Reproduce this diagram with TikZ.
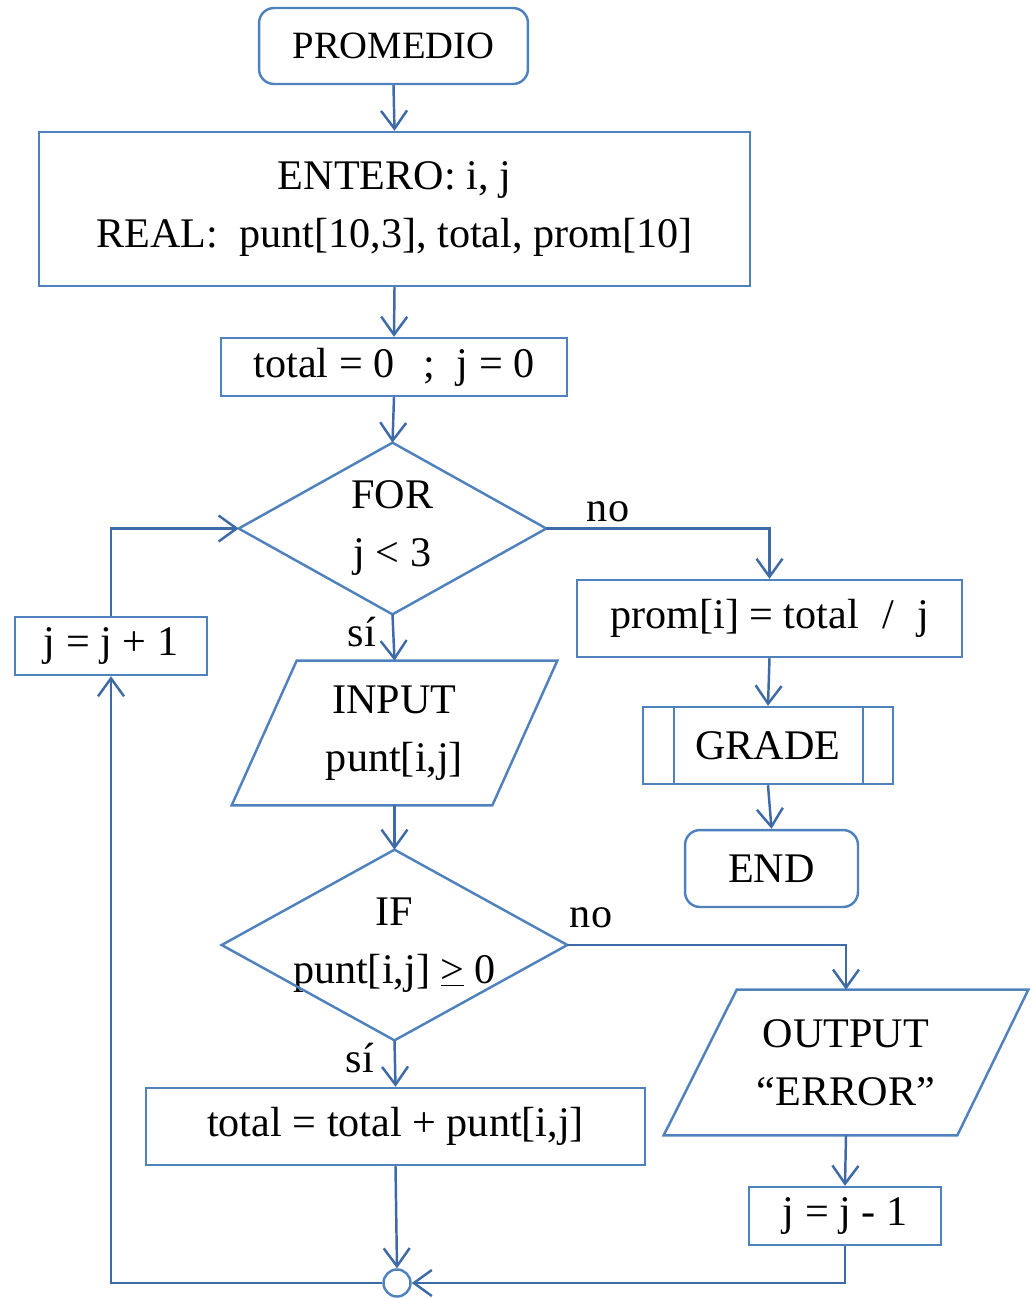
\documentclass[tikz,border=0pt]{standalone}
\usepackage{fontspec}
\setmainfont{Liberation Serif}
\usetikzlibrary{shapes.geometric,arrows.meta,calc}
\definecolor{boxblue}{RGB}{79,129,189}
\definecolor{linkblue}{RGB}{62,106,168}
\begin{document}
\begin{tikzpicture}[x=0.02cm,y=-0.02cm,
  every node/.style={font=\fontsize{24}{33}\selectfont, inner sep=0pt, align=center},
  boxline/.style={draw=boxblue, line width=1.4pt},
  procbox/.style={boxline, rectangle},
  termbox/.style={boxline, rectangle, rounded corners=0.3cm},
  frame/.style={rectangle},
  link/.style={draw=linkblue, line width=1.4pt, -{Straight Barb[length=0.36cm,width=0.52cm]}},
  tag/.style={font=\fontsize{24}{28}\selectfont}
]
\useasboundingbox (0,0) rectangle (1032,1299);

% main column
\node[termbox, minimum width=5.38cm, minimum height=1.52cm, font=\fontsize{22}{28}\selectfont] (promedio) at (393.5,46) {PROMEDIO};
\node[procbox, minimum width=14.22cm, minimum height=3.08cm] (entero) at (394.5,209)
  {ENTERO: i, j\\REAL:\ \ punt[10,3], total, prom[10]};
\node[procbox, minimum width=6.92cm, minimum height=1.16cm] (init) at (394,367)
  {total = 0\hspace{0.45em} ;\hspace{0.25em} j = 0};

% FOR decision: text frame with the diamond drawn on its anchors
\node[frame, minimum width=6.14cm, minimum height=3.42cm] (for) at (392.5,528.5) {FOR\\j < 3};
\draw[boxline] (for.north) -- (for.east) -- (for.south) -- (for.west) -- cycle;

% INPUT data box
\node[frame, minimum width=6.5cm, minimum height=2.88cm] (input) at (394.5,733) {INPUT\\punt[i,j]};
\draw[boxline] (input.south west) -- ([xshift=1.3cm]input.north west) -- (input.north east)
  -- ([xshift=-1.3cm]input.south east) -- cycle;

% IF decision
\node[frame, minimum width=6.9cm, minimum height=3.8cm] (if) at (394.5,945) {IF\\punt[i,j] \underline{>} 0};
\draw[boxline] (if.north) -- (if.east) -- (if.south) -- (if.west) -- cycle;

\node[procbox, minimum width=9.98cm, minimum height=1.54cm] (sum) at (395.5,1126.5) {total = total + punt[i,j]};
\node[boxline, circle, minimum size=0.54cm] (merge) at (397,1283) {};

% loop counter
\node[procbox, minimum width=3.84cm, minimum height=1.16cm] (jplus) at (111,646) {j = j + 1};

% exit branch of the loop
\node[procbox, minimum width=7.7cm, minimum height=1.54cm] (prom) at (769.5,618.5) {prom[i] = total\hspace{0.3em} /\hspace{0.3em} j};
\node[procbox, minimum width=5.0cm, minimum height=1.54cm] (grade) at (768,745.5) {GRADE};
\draw[boxline] ([xshift=0.64cm]grade.north west) -- ([xshift=0.64cm]grade.south west);
\draw[boxline] ([xshift=-0.62cm]grade.north east) -- ([xshift=-0.62cm]grade.south east);
\node[termbox, minimum width=3.46cm, minimum height=1.54cm] (end) at (771.5,868.5) {END};

% error branch
\node[frame, minimum width=7.28cm, minimum height=2.9cm] (output) at (846,1062.5) {OUTPUT\\“ERROR”};
\draw[boxline] (output.south west) -- ([xshift=1.46cm]output.north west) -- (output.north east)
  -- ([xshift=-1.42cm]output.south east) -- cycle;
\node[procbox, minimum width=3.84cm, minimum height=1.16cm] (jminus) at (845,1216) {j = j - 1};

% connectors
\draw[link] (promedio.south) -- (entero.north);
\draw[link] (entero.south) -- (init.north);
\draw[link] (init.south) -- (for.north);
\draw[link] (for.south) -- (input.north);
\draw[link] (input.south) -- (if.north);
\draw[link] (if.south) -- (sum.north);
\draw[link] (sum.south) -- (merge.north);
\draw[link] (for.east) -| (prom.north);
\draw[link] (prom.south) -- (grade.north);
\draw[link] (grade.south) -- (end.north);
\draw[link] (if.east) -| (output.north);
\draw[link] (output.south) -- (jminus.north);
\draw[link] (jminus.south) |- (merge.east);
\draw[link] (merge.west) -| (jplus.south);
\draw[link] (jplus.north) |- (for.west);

% branch labels
\node[tag] (noFor) at (608,512) {no};
\node[tag] (siFor) at (362,632) {sí};
\node[tag] (noIf) at (591,918) {no};
\node[tag] (siIf) at (360,1058) {sí};
\end{tikzpicture}
\end{document}
